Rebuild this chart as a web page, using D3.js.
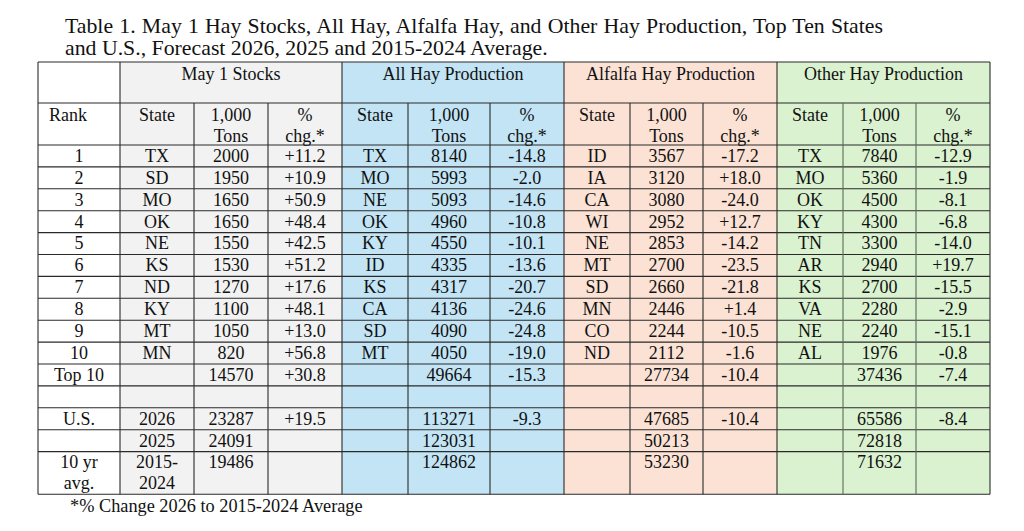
<!DOCTYPE html>
<html>
<head>
<meta charset="utf-8">
<script src="https://cdn.jsdelivr.net/npm/d3@7/dist/d3.min.js"></script>
<style>
  html, body { margin: 0; padding: 0; background: #fff; }
  svg { display: block; }
  text { font-family: "Liberation Serif", "Times New Roman", serif; fill: #111; }
</style>
</head>
<body>
<svg id="chart" width="1024" height="531"></svg>
<script>
// ---------------- DATA ----------------
const titleLines = [
  "Table 1. May 1 Hay Stocks, All Hay, Alfalfa Hay, and Other Hay Production, Top Ten States",
  "and U.S., Forecast 2026, 2025 and 2015-2024 Average."
];
const footnote = "*% Change 2026 to 2015-2024 Average";

const sections = ["May 1 Stocks", "All Hay Production", "Alfalfa Hay Production", "Other Hay Production"];
const subHeaders = [["State"], ["1,000", "Tons"], ["%", "chg.*"]];

const rankLabels = ["1", "2", "3", "4", "5", "6", "7", "8", "9", "10"];

const stocksState = ["TX", "SD", "MO", "OK", "NE", "KS", "ND", "KY", "MT", "MN"];
const stocksTons  = [2000, 1950, 1650, 1650, 1550, 1530, 1270, 1100, 1050, 820];
const stocksChg   = ["+11.2", "+10.9", "+50.9", "+48.4", "+42.5", "+51.2", "+17.6", "+48.1", "+13.0", "+56.8"];

const allState = ["TX", "MO", "NE", "OK", "KY", "ID", "KS", "CA", "SD", "MT"];
const allTons  = [8140, 5993, 5093, 4960, 4550, 4335, 4317, 4136, 4090, 4050];
const allChg   = ["-14.8", "-2.0", "-14.6", "-10.8", "-10.1", "-13.6", "-20.7", "-24.6", "-24.8", "-19.0"];

const alfState = ["ID", "IA", "CA", "WI", "NE", "MT", "SD", "MN", "CO", "ND"];
const alfTons  = [3567, 3120, 3080, 2952, 2853, 2700, 2660, 2446, 2244, 2112];
const alfChg   = ["-17.2", "+18.0", "-24.0", "+12.7", "-14.2", "-23.5", "-21.8", "+1.4", "-10.5", "-1.6"];

const othState = ["TX", "MO", "OK", "KY", "TN", "AR", "KS", "VA", "NE", "AL"];
const othTons  = [7840, 5360, 4500, 4300, 3300, 2940, 2700, 2280, 2240, 1976];
const othChg   = ["-12.9", "-1.9", "-8.1", "-6.8", "-14.0", "+19.7", "-15.5", "-2.9", "-15.1", "-0.8"];

// summary rows: [Top 10, blank, U.S. 2026, 2025, 10 yr avg]
const summaryRank  = [["Top 10"], [""], ["U.S."], [""], ["10 yr", "avg."]];
const summaryYear  = [[""], [""], ["2026"], ["2025"], ["2015-", "2024"]];
const stocksSumTons = ["14570", "", "23287", "24091", "19486"];
const stocksSumChg  = ["+30.8", "", "+19.5", "", ""];
const allSumTons    = ["49664", "", "113271", "123031", "124862"];
const allSumChg     = ["-15.3", "", "-9.3", "", ""];
const alfSumTons    = ["27734", "", "47685", "50213", "53230"];
const alfSumChg     = ["-10.4", "", "-10.4", "", ""];
const othSumTons    = ["37436", "", "65586", "72818", "71632"];
const othSumChg     = ["-7.4", "", "-8.4", "", ""];

// ---------------- LAYOUT ----------------
const colEdges = [38, 120, 194, 268, 342, 408, 490, 564, 630, 703, 777, 843, 916, 990];
const sectionFills = ["#f2f2f2", "#c2e4f5", "#fbe2d5", "#daf2d0"];
const tableTop = 62, head1Bottom = 103, head2Bottom = 145, rowH = 21.9, tableBottom = 494.3;
const fontSize = 18;

const svg = d3.select("#chart");

// column scale: index -> left edge
const colX = d3.scaleOrdinal().domain(d3.range(colEdges.length)).range(colEdges);
const colCenter = i => (colX(i) + colX(i + 1)) / 2;
// row scale
const nRows = 15;
const rowY = d3.scaleLinear().domain([0, 14]).range([head2Bottom, head2Bottom + 14 * rowH]);
const rowTop = i => rowY(i);
const rowBottom = i => (i === nRows - 1 ? tableBottom : rowY(i + 1));

// ---------------- BUILD ROWS ----------------
const sectData = [
  [stocksState, stocksTons, stocksChg, stocksSumTons, stocksSumChg],
  [allState, allTons, allChg, allSumTons, allSumChg],
  [alfState, alfTons, alfChg, alfSumTons, alfSumChg],
  [othState, othTons, othChg, othSumTons, othSumChg]
];

const cells = []; // {row, col, lines}
rankLabels.forEach((r, i) => {
  cells.push({ row: i, col: 0, lines: [r] });
  sectData.forEach((s, k) => {
    cells.push({ row: i, col: 1 + k * 3, lines: [s[0][i]] });
    cells.push({ row: i, col: 2 + k * 3, lines: [String(s[1][i])] });
    cells.push({ row: i, col: 3 + k * 3, lines: [s[2][i]] });
  });
});
summaryRank.forEach((r, j) => {
  const row = 10 + j;
  cells.push({ row, col: 0, lines: r });
  cells.push({ row, col: 1, lines: summaryYear[j] });
  sectData.forEach((s, k) => {
    cells.push({ row, col: 2 + k * 3, lines: [s[3][j]] });
    cells.push({ row, col: 3 + k * 3, lines: [s[4][j]] });
  });
});

// ---------------- BACKGROUNDS ----------------
svg.append("g").selectAll("rect")
  .data(sections)
  .join("rect")
  .attr("x", (d, k) => colX(1 + k * 3))
  .attr("y", tableTop)
  .attr("width", (d, k) => colX(4 + k * 3) - colX(1 + k * 3))
  .attr("height", tableBottom - tableTop)
  .attr("fill", (d, k) => sectionFills[k]);

// ---------------- GRID LINES ----------------
const grid = svg.append("g").attr("stroke", "#2a2a2a").attr("stroke-width", 1.1).attr("fill", "none");
const hLines = [tableTop, head1Bottom, head2Bottom].concat(d3.range(1, nRows).map(rowTop), [tableBottom]);
grid.selectAll("line.h")
  .data(hLines)
  .join("line")
  .attr("class", "h")
  .attr("x1", colEdges[0]).attr("x2", colEdges[colEdges.length - 1])
  .attr("y1", d => d).attr("y2", d => d);

const sectionEdgeIdx = [0, 1, 4, 7, 10, 13];
grid.selectAll("line.v")
  .data(d3.range(colEdges.length))
  .join("line")
  .attr("class", "v")
  .attr("x1", i => colX(i)).attr("x2", i => colX(i))
  .attr("y1", i => sectionEdgeIdx.includes(i) ? tableTop : head1Bottom)
  .attr("y2", tableBottom)
  .attr("stroke", i => (i >= 10 && i < 13 && i !== 10) ? "#5d6b5a" : null);

// ---------------- TEXT ----------------
const txt = svg.append("g").attr("font-size", fontSize);

// section headers
txt.selectAll("text.sec")
  .data(sections)
  .join("text")
  .attr("class", "sec")
  .attr("x", (d, k) => (colX(1 + k * 3) + colX(4 + k * 3)) / 2)
  .attr("y", tableTop + 18)
  .attr("text-anchor", "middle")
  .text(d => d);

// sub headers
txt.append("text").attr("x", colX(0) + 11).attr("y", head1Bottom + 18).text("Rank");
const subCells = [];
sections.forEach((s, k) => subHeaders.forEach((h, m) => subCells.push({ col: 1 + k * 3 + m, lines: h })));
txt.selectAll("text.sub")
  .data(subCells)
  .join("text")
  .attr("class", "sub")
  .attr("text-anchor", "middle")
  .each(function (d) {
    const t = d3.select(this);
    d.lines.forEach((l, li) => {
      t.append("tspan").attr("x", colCenter(d.col)).attr("y", head1Bottom + 18 + li * 20.5).text(l);
    });
  });

// body cells
txt.selectAll("text.cell")
  .data(cells.filter(c => c.lines.some(l => l !== "")))
  .join("text")
  .attr("class", "cell")
  .attr("text-anchor", "middle")
  .each(function (d) {
    const t = d3.select(this);
    d.lines.forEach((l, li) => {
      t.append("tspan").attr("x", colCenter(d.col)).attr("y", rowTop(d.row) + 16.8 + li * 20.5).text(l);
    });
  });

// title (first line justified like the source document)
const titleX = 65, titleLine1Right = 883;
svg.append("g").attr("font-size", 21.8)
  .selectAll("text")
  .data(titleLines)
  .join("text")
  .attr("x", titleX)
  .attr("y", (d, i) => 33 + i * 22)
  .text(d => d)
  .each(function (d, i) {
    if (i === 0) {
      const natural = this.getComputedTextLength();
      const spaces = (d.match(/ /g) || []).length;
      const extra = (titleLine1Right - titleX - natural) / spaces;
      if (extra > 0) d3.select(this).attr("word-spacing", extra);
    }
  });

// footnote
svg.append("text").attr("font-size", 18.3).attr("x", 70).attr("y", 512).text(footnote);
</script>
</body>
</html>
